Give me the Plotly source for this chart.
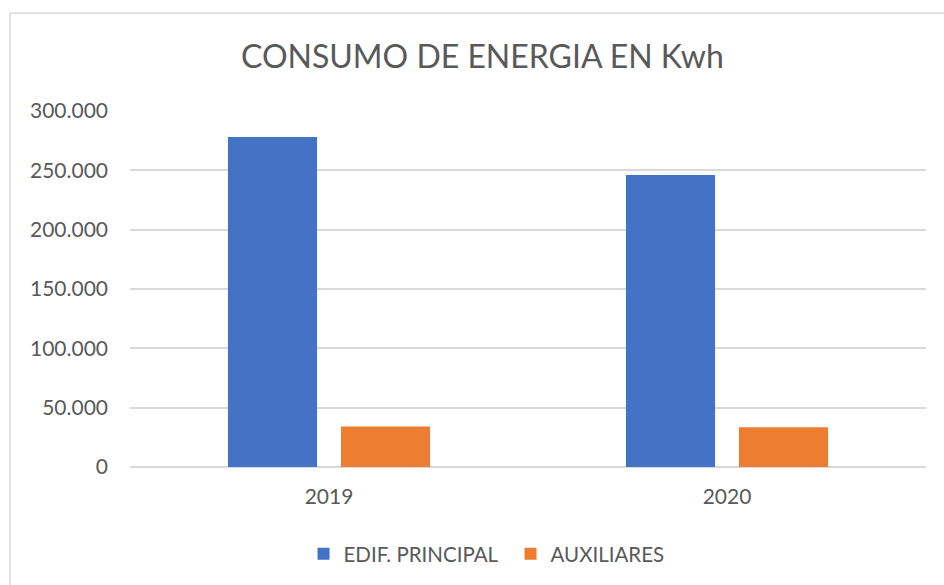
import plotly.graph_objects as go

years = ["2019", "2020"]
edif_principal = [278000, 246000]
auxiliares = [34200, 33400]
y_ticks = [0, 50000, 100000, 150000, 200000, 250000, 300000]
y_tick_labels = ["0", "50.000", "100.000", "150.000", "200.000", "250.000", "300.000"]

FONT = "Lato"
TXT = "#595959"
GRID = "#d9d9d9"

fig = go.Figure()
fig.add_trace(go.Bar(name="EDIF. PRINCIPAL", x=years, y=edif_principal,
                     marker=dict(color="#4472c4", line=dict(width=0))))
fig.add_trace(go.Bar(name="AUXILIARES", x=years, y=auxiliares,
                     marker=dict(color="#ed7d31", line=dict(width=0))))

fig.update_layout(
    width=944, height=585,
    margin=dict(l=130, r=18, t=111, b=117),
    paper_bgcolor="white", plot_bgcolor="white",
    barmode="group", bargap=0.432, bargroupgap=0.212,
    font=dict(family=FONT, color=TXT, size=19),
    title=dict(text="CONSUMO DE ENERGIA EN Kwh", x=0.511, xanchor="center",
               y=1 - 57 / 585, yanchor="middle", yref="container",
               font=dict(family=FONT, size=32, color=TXT)),
    showlegend=True,
    legend=dict(orientation="h", x=0.218, xanchor="left", y=-0.241, yanchor="middle",
                yref="paper", font=dict(size=20.5, color=TXT), traceorder="normal",
                entrywidth=162),
    xaxis=dict(showgrid=False, showline=False, ticks="", ticklabelstandoff=15,
               tickfont=dict(size=21, color=TXT)),
    yaxis=dict(range=[0, 300000], tickvals=y_ticks, ticktext=y_tick_labels,
               showgrid=True, gridcolor=GRID, gridwidth=1.5,
               zeroline=True, zerolinecolor=GRID, zerolinewidth=1.5,
               showline=False, ticks="", ticklabelstandoff=21,
               tickfont=dict(size=21, color=TXT)),
    shapes=[dict(type="rect", xref="paper", yref="paper",
                 x0=-120 / 796, x1=1.1, y0=-(585 - 468 + 10) / 357, y1=1 + (111 - 13) / 357,
                 line=dict(color=GRID, width=1.5), fillcolor="rgba(0,0,0,0)", layer="below")],
)

fig.write_html("out.html", config={"displayModeBar": False},
               post_script="document.body.style.margin='0px';")
